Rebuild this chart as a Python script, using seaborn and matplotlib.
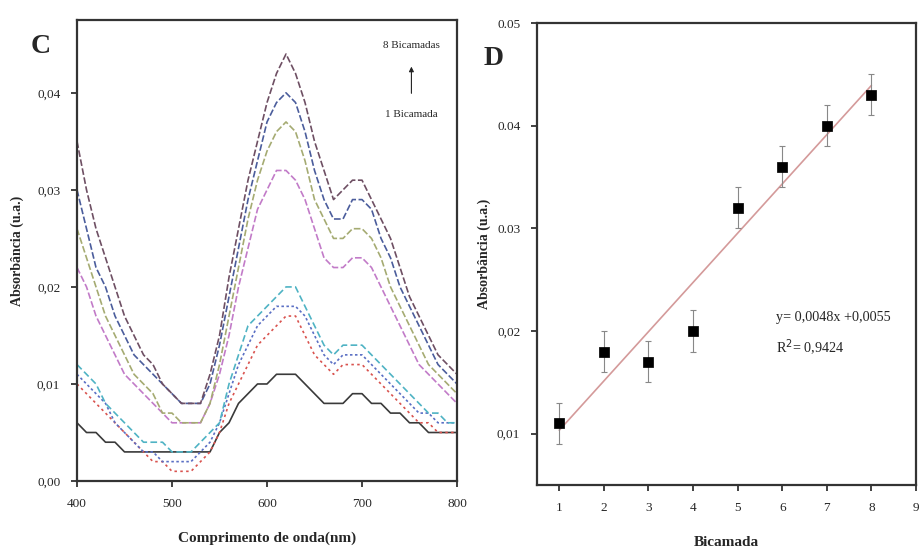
import matplotlib
matplotlib.use("Agg")
import matplotlib.pyplot as plt
import numpy as np
import pandas as pd
import seaborn as sns
from matplotlib.ticker import FuncFormatter

# Panel C: absorbance spectra, 400-800 nm every 10 nm
wavelength = list(range(400, 801, 10))

bicamada_1 = [0.006, 0.005, 0.005, 0.004, 0.004, 0.003, 0.003, 0.003, 0.003, 0.003, 0.003,
              0.003, 0.003, 0.003, 0.003, 0.005, 0.006, 0.008, 0.009, 0.010, 0.010, 0.011,
              0.011, 0.011, 0.010, 0.009, 0.008, 0.008, 0.008, 0.009, 0.009, 0.008, 0.008,
              0.007, 0.007, 0.006, 0.006, 0.005, 0.005, 0.005, 0.005]
bicamada_2 = [0.010, 0.009, 0.008, 0.007, 0.006, 0.005, 0.004, 0.003, 0.002, 0.002, 0.001,
              0.001, 0.001, 0.002, 0.003, 0.005, 0.008, 0.010, 0.012, 0.014, 0.015, 0.016,
              0.017, 0.017, 0.015, 0.013, 0.012, 0.011, 0.012, 0.012, 0.012, 0.011, 0.010,
              0.009, 0.008, 0.007, 0.006, 0.006, 0.005, 0.005, 0.005]
bicamada_3 = [0.011, 0.010, 0.009, 0.008, 0.006, 0.005, 0.004, 0.003, 0.003, 0.002, 0.002,
              0.002, 0.002, 0.003, 0.004, 0.006, 0.009, 0.012, 0.014, 0.016, 0.017, 0.018,
              0.018, 0.018, 0.017, 0.015, 0.013, 0.012, 0.013, 0.013, 0.013, 0.012, 0.011,
              0.010, 0.009, 0.008, 0.007, 0.007, 0.006, 0.006, 0.006]
bicamada_4 = [0.012, 0.011, 0.010, 0.008, 0.007, 0.006, 0.005, 0.004, 0.004, 0.004, 0.003,
              0.003, 0.003, 0.004, 0.005, 0.006, 0.010, 0.013, 0.016, 0.017, 0.018, 0.019,
              0.020, 0.020, 0.018, 0.016, 0.014, 0.013, 0.014, 0.014, 0.014, 0.013, 0.012,
              0.011, 0.010, 0.009, 0.008, 0.007, 0.007, 0.006, 0.006]
bicamada_5 = [0.022, 0.020, 0.017, 0.015, 0.013, 0.011, 0.010, 0.009, 0.008, 0.007, 0.006,
              0.006, 0.006, 0.006, 0.008, 0.011, 0.015, 0.020, 0.024, 0.028, 0.030, 0.032,
              0.032, 0.031, 0.029, 0.026, 0.023, 0.022, 0.022, 0.023, 0.023, 0.022, 0.020,
              0.018, 0.016, 0.014, 0.012, 0.011, 0.010, 0.009, 0.008]
bicamada_6 = [0.026, 0.023, 0.020, 0.017, 0.015, 0.013, 0.011, 0.010, 0.009, 0.007, 0.007,
              0.006, 0.006, 0.006, 0.008, 0.012, 0.017, 0.022, 0.027, 0.031, 0.034, 0.036,
              0.037, 0.036, 0.033, 0.029, 0.027, 0.025, 0.025, 0.026, 0.026, 0.025, 0.023,
              0.020, 0.018, 0.016, 0.014, 0.012, 0.011, 0.010, 0.009]
bicamada_7 = [0.030, 0.026, 0.022, 0.020, 0.017, 0.015, 0.013, 0.012, 0.011, 0.010, 0.009,
              0.008, 0.008, 0.008, 0.010, 0.014, 0.019, 0.024, 0.029, 0.033, 0.037, 0.039,
              0.040, 0.039, 0.036, 0.032, 0.029, 0.027, 0.027, 0.029, 0.029, 0.028, 0.025,
              0.023, 0.020, 0.018, 0.016, 0.014, 0.012, 0.011, 0.010]
bicamada_8 = [0.035, 0.030, 0.026, 0.023, 0.020, 0.017, 0.015, 0.013, 0.012, 0.010, 0.009,
              0.008, 0.008, 0.008, 0.011, 0.015, 0.021, 0.026, 0.031, 0.035, 0.039, 0.042,
              0.044, 0.042, 0.039, 0.035, 0.032, 0.029, 0.030, 0.031, 0.031, 0.029, 0.027,
              0.025, 0.022, 0.019, 0.017, 0.015, 0.013, 0.012, 0.011]

# Panel D: absorbance at the band maximum vs number of bilayers
bicamadas = [1, 2, 3, 4, 5, 6, 7, 8]
absorbancia = [0.011, 0.018, 0.017, 0.020, 0.032, 0.036, 0.040, 0.043]
erro = [0.002, 0.002, 0.002, 0.002, 0.002, 0.002, 0.002, 0.002]
d_yticks = [0.01, 0.02, 0.03, 0.04, 0.05]
d_ytick_labels = ["0,01", "0,02", "0.03", "0.04", "0.05"]
equacao = "y= 0,0048x +0,0055"
r2_text = "R$^2$= 0,9424"


def main() -> None:
    sns.set_theme(style="white")
    plt.rcParams["font.family"] = ["Liberation Serif", "DejaVu Serif"]
    plt.rcParams["axes.edgecolor"] = "#333333"
    plt.rcParams["axes.linewidth"] = 1.6

    fig = plt.figure(figsize=(9.19, 5.57), dpi=100)
    ax_c = fig.add_axes([0.0838, 0.1364, 0.4135, 0.8276])
    ax_d = fig.add_axes([0.5843, 0.1293, 0.4124, 0.8294])

    series = [
        (bicamada_1, "#3a3a3a", "-"),
        (bicamada_2, "#d9534f", (0, (1.5, 2.0))),
        (bicamada_3, "#5a6fc4", (0, (1.5, 1.5))),
        (bicamada_4, "#4fb3c4", (0, (4, 2))),
        (bicamada_5, "#c27bc8", (0, (4, 1.5))),
        (bicamada_6, "#a5ab72", (0, (4, 1.5))),
        (bicamada_7, "#4b5d9c", (0, (4, 1.5))),
        (bicamada_8, "#6e4f63", (0, (4, 1.5))),
    ]
    for values, color, ls in series:
        sns.lineplot(x=wavelength, y=values, ax=ax_c, color=color,
                     linestyle=ls, linewidth=1.2)

    ax_c.set_xlim(400, 800)
    ax_c.set_ylim(0, 0.0475)
    ax_c.set_xticks([400, 500, 600, 700, 800])
    ax_c.set_yticks([0.0, 0.01, 0.02, 0.03, 0.04])
    ax_c.yaxis.set_major_formatter(FuncFormatter(lambda v, p: f"{v:.2f}".replace(".", ",")))
    ax_c.set_xlabel("Comprimento de onda(nm)", fontsize=11, fontweight="bold", labelpad=16)
    ax_c.set_ylabel("Absorbância (u.a.)", fontsize=10, fontweight="bold", labelpad=9)
    ax_c.text(-0.095, 0.97, "C", transform=ax_c.transAxes, fontsize=20,
              fontweight="bold", va="top", ha="center")
    ax_c.text(0.88, 0.94, "8 Bicamadas", transform=ax_c.transAxes, fontsize=8, ha="center")
    ax_c.text(0.88, 0.79, "1 Bicamada", transform=ax_c.transAxes, fontsize=8, ha="center")
    ax_c.annotate("", xy=(0.88, 0.905), xytext=(0.88, 0.835), xycoords="axes fraction",
                  arrowprops=dict(arrowstyle="-|>", color="#222222", lw=0.8,
                                  mutation_scale=7))

    # Panel D
    ax_d.errorbar(bicamadas, absorbancia, yerr=erro, fmt="none", ecolor="#888888",
                  elinewidth=0.8, capsize=2.5, capthick=0.8, zorder=2)
    sns.regplot(x=bicamadas, y=absorbancia, ax=ax_d, ci=None, scatter=False,
                truncate=True, line_kws=dict(color="#d49a9a", linewidth=1.2, zorder=1))
    sns.scatterplot(x=bicamadas, y=absorbancia, ax=ax_d, marker="s", s=42,
                    color="black", edgecolor="black", zorder=3)
    ax_d.set_xlim(0.5, 9)
    ax_d.set_ylim(0.005, 0.05)
    ax_d.set_xticks(range(1, 10))
    ax_d.set_yticks(d_yticks)
    ax_d.set_yticklabels(d_ytick_labels)
    ax_d.set_xlabel("Bicamada", fontsize=11, fontweight="bold", labelpad=16)
    ax_d.set_ylabel("Absorbância (u.a.)", fontsize=10, fontweight="bold", labelpad=4)
    ax_d.text(-0.115, 0.95, "D", transform=ax_d.transAxes, fontsize=20,
              fontweight="bold", va="top", ha="center")
    ax_d.text(0.63, 0.355, equacao, transform=ax_d.transAxes, fontsize=10.2)
    ax_d.text(0.63, 0.285, r2_text, transform=ax_d.transAxes, fontsize=10.2)

    for ax in (ax_c, ax_d):
        ax.tick_params(axis="both", which="major", direction="out", length=4,
                       width=1.3, color="#333333", labelsize=9.5, pad=8,
                       left=True, bottom=True)
        for sp in ax.spines.values():
            sp.set_visible(True)

    fig.savefig("out.png", dpi=100)
    plt.close(fig)


if __name__ == "__main__":
    main()
